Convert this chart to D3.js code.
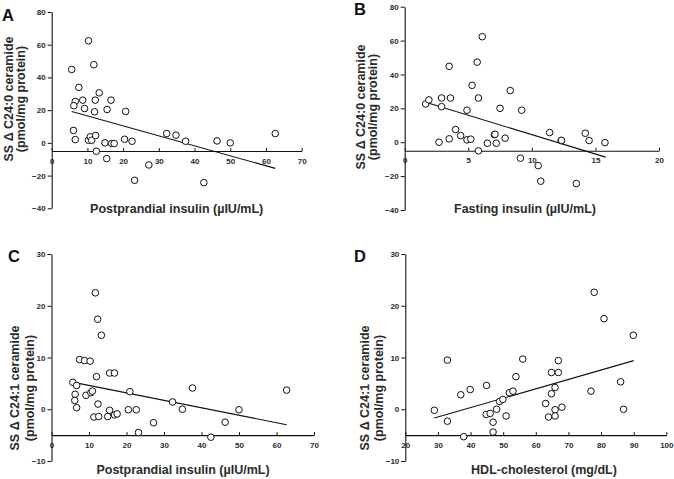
<!DOCTYPE html>
<html>
<head>
<meta charset="utf-8">
<script src="https://cdn.jsdelivr.net/npm/d3@7"></script>
<style>
  html, body { margin: 0; padding: 0; background: #fff; }
  svg { display: block; font-family: "Liberation Sans", Arial, sans-serif; }
</style>
</head>
<body>
<svg id="chart" width="674" height="479"></svg>
<script>
// ---- Panel A: Postprandial insulin vs SS Δ C24:0 ceramide ----
const aX = [5.6, 10.3, 11.8, 7.6, 13.3, 6.6, 8.7, 12.2, 16.6, 6.2, 9.2, 12.0, 15.5, 20.7, 6.1, 6.6, 10.3, 10.8, 11.2, 12.3, 14.9, 16.8, 17.5, 20.4, 22.5, 12.5, 15.4, 27.2, 23.2, 32.2, 34.8, 37.5, 42.6, 46.3, 50.0, 62.6];
const aY = [44.9, 62.4, 47.8, 33.9, 30.6, 25.3, 26.1, 26.1, 26.1, 22.7, 21.0, 19.0, 20.4, 19.2, 7.6, 2.0, 1.6, 3.7, 1.6, 4.5, 0.0, -0.4, -0.4, 2.2, 1.0, -5.1, -9.6, -13.5, -22.9, 5.7, 4.7, 1.0, -24.3, 1.2, 0.0, 5.7];
const aFitX = [5.6, 62.6];
const aFitY = [19.2, -15.6];

// ---- Panel B: Fasting insulin vs SS Δ C24:0 ceramide ----
const bX = [1.65, 1.9, 2.9, 2.9, 2.7, 3.5, 3.6, 3.5, 4.0, 4.4, 4.9, 4.9, 5.2, 5.3, 5.7, 5.8, 6.1, 5.8, 6.5, 7.05, 7.1, 7.2, 7.5, 7.9, 8.3, 9.2, 9.1, 10.5, 10.7, 11.4, 12.3, 12.33, 13.5, 14.2, 14.5, 15.75];
const bY = [22.6, 25.0, 26.1, 21.0, 0.0, 44.8, 26.1, 2.0, 7.5, 3.9, 18.9, 1.4, 1.8, 33.6, 47.3, 26.1, 62.3, -5.1, -0.6, 4.5, 4.7, -0.6, 20.0, 2.4, 30.5, 18.9, -9.4, -13.8, -23.0, 5.7, 1.0, 1.1, -24.4, 5.3, 1.0, -0.2];
const bFitX = [1.65, 15.8];
const bFitY = [23.6, -8.8];

// ---- Panel C: Postprandial insulin vs SS Δ C24:1 ceramide ----
const cX = [5.7, 6.7, 6.3, 6.2, 6.7, 7.5, 8.8, 10.3, 9.2, 10.5, 10.9, 11.7, 12.3, 13.3, 12.0, 12.4, 11.3, 12.6, 15.5, 16.8, 15.5, 15.0, 16.8, 17.5, 20.9, 20.5, 22.6, 27.2, 23.2, 32.3, 34.9, 37.6, 42.5, 46.3, 50.0, 62.7];
const cY = [5.2, 4.6, 2.9, 1.7, 0.3, 9.6, 9.4, 9.3, 2.7, 3.2, 3.5, 22.5, 17.4, 14.3, 6.3, 1.0, -1.5, -1.4, 7.0, 7.0, -0.2, -1.4, -1.1, -0.9, 3.4, -0.1, -0.1, -2.6, -4.5, 1.4, 0.0, 4.1, -5.4, -2.5, -0.1, 3.7];
const cFitX = [5.9, 62.7];
const cFitY = [5.2, -3.0];

// ---- Panel D: HDL-cholesterol vs SS Δ C24:1 ceramide ----
const dX = [28.9, 32.9, 32.9, 37.0, 37.9, 39.9, 44.9, 44.8, 46.0, 46.9, 46.9, 48.0, 48.9, 49.9, 50.9, 51.9, 53.0, 53.9, 56.0, 63.0, 63.9, 64.8, 64.8, 65.9, 65.9, 65.9, 66.9, 66.9, 68.0, 76.9, 77.9, 80.9, 86.0, 86.9, 89.9];
const dY = [-0.2, 9.5, -2.3, 2.8, -5.3, 3.8, 4.6, -1.0, -0.8, -2.5, -4.4, 0.0, 1.5, 1.9, -1.3, 3.2, 3.5, 6.3, 9.7, 1.1, -1.5, 3.0, 7.1, 4.2, -0.1, -1.3, 7.1, 9.4, 0.4, 3.5, 22.6, 17.5, 5.3, 0.0, 14.3];
const dFitX = [28.9, 90];
const dFitY = [-1.7, 9.4];

// ---- Tick values ----
const ticksY1 = [-40, -20, 0, 20, 40, 60, 80];
const ticksY2 = [-10, 0, 10, 20, 30];
const ticksXA = [0, 10, 20, 30, 40, 50, 60, 70];
const ticksXB = [0, 5, 10, 15, 20];
const ticksXD = [20, 30, 40, 50, 60, 70, 80, 90, 100];

// ---- Labels ----
const panelLetters = ["A", "B", "C", "D"];
const xTitles = ["Postprandial insulin (\u00b5IU/mL)", "Fasting insulin (\u00b5IU/mL)", "Postprandial insulin (\u00b5IU/mL)", "HDL-cholesterol (mg/dL)"];
const yTitles1 = ["SS \u0394 C24:0 ceramide", "SS \u0394 C24:0 ceramide", "SS \u0394 C24:1 ceramide", "SS \u0394 C24:1 ceramide"];
const yTitle2 = "(pmol/mg protein)";

const svg = d3.select("#chart");
const TEXT = "#2b2b2b";

const panels = [
  { xs: aX, ys: aY, fx: aFitX, fy: aFitY, xd: [0, 70], yd: [-40, 80], xr: [51.7, 301.7], yr: [208.3, 12], xt: ticksXA, yt: ticksY1,
    letter: [2, 21], xTitle: [176.7, 213], yTitle: [12.5, 24.5, 99] },
  { xs: bX, ys: bY, fx: bFitX, fy: bFitY, xd: [0, 20], yd: [-40, 80], xr: [404.7, 659], yr: [210, 6.7], xt: ticksXB, yt: ticksY1,
    letter: [354, 15], xTitle: [525, 213], yTitle: [365, 377, 107] },
  { xs: cX, ys: cY, fx: cFitX, fy: cFitY, xd: [0, 70], yd: [-10, 30], xr: [51.5, 314], yr: [461, 254], xt: ticksXA, yt: ticksY2,
    letter: [8, 262], xTitle: [183, 474], yTitle: [19, 34, 388] },
  { xs: dX, ys: dY, fx: dFitX, fy: dFitY, xd: [20, 100], yd: [-10, 30], xr: [405.3, 666.3], yr: [461, 254], xt: ticksXD, yt: ticksY2,
    letter: [354, 262], xTitle: [544, 474], yTitle: [369, 383, 388] }
];

panels.forEach((p, i) => {
  const g = svg.append("g");
  const x = d3.scaleLinear().domain(p.xd).range(p.xr);
  const y = d3.scaleLinear().domain(p.yd).range(p.yr);

  // x axis (crosses at y = -5)
  const xAxis = d3.axisBottom(x).tickValues(p.xt).tickFormat(d3.format("d"))
    .tickSizeInner(-3).tickSizeOuter(0).tickPadding(7);
  const gx = g.append("g").attr("transform", `translate(0,${y(-5)})`).call(xAxis);
  gx.select(".domain").attr("stroke", "#111").attr("stroke-width", 1.1);
  gx.selectAll(".tick line").attr("stroke", "#111");
  gx.selectAll(".tick text").attr("fill", TEXT).attr("font-size", 8).attr("font-weight", "bold")
    .attr("font-family", "'Liberation Sans', Arial, sans-serif");

  // y axis
  const yAxis = d3.axisLeft(y).tickValues(p.yt).tickFormat(d3.format("d"))
    .tickSizeInner(4).tickSizeOuter(0).tickPadding(2);
  const gy = g.append("g").attr("transform", `translate(${x(p.xd[0])},0)`).call(yAxis);
  gy.select(".domain").attr("stroke", "#111").attr("stroke-width", 1.1);
  gy.selectAll(".tick line").attr("stroke", "#111");
  gy.selectAll(".tick text").attr("fill", TEXT).attr("font-size", 8).attr("font-weight", "bold")
    .attr("font-family", "'Liberation Sans', Arial, sans-serif");

  // regression line
  const line = d3.line().x(d => x(d[0])).y(d => y(d[1]));
  g.append("path").datum(d3.zip(p.fx, p.fy)).attr("d", line)
    .attr("fill", "none").attr("stroke", "#111").attr("stroke-width", 1.1);

  // points
  g.append("g").selectAll("circle").data(d3.zip(p.xs, p.ys)).join("circle")
    .attr("cx", d => x(d[0])).attr("cy", d => y(d[1])).attr("r", 3.3)
    .attr("fill", "#fff").attr("stroke", "#111").attr("stroke-width", 1);

  // panel letter
  g.append("text").attr("x", p.letter[0]).attr("y", p.letter[1]).text(panelLetters[i])
    .attr("font-size", 16.5).attr("font-weight", "bold").attr("fill", "#111");

  // x title
  g.append("text").attr("x", p.xTitle[0]).attr("y", p.xTitle[1]).attr("text-anchor", "middle")
    .text(xTitles[i]).attr("font-size", 12.5).attr("font-weight", "bold").attr("fill", TEXT);

  // y title (two lines)
  g.append("text").attr("transform", `translate(${p.yTitle[0]},${p.yTitle[2]}) rotate(-90)`)
    .attr("text-anchor", "middle").text(yTitles1[i])
    .attr("font-size", 12.5).attr("font-weight", "bold").attr("fill", TEXT);
  g.append("text").attr("transform", `translate(${p.yTitle[1]},${p.yTitle[2]}) rotate(-90)`)
    .attr("text-anchor", "middle").text(yTitle2)
    .attr("font-size", 12.5).attr("font-weight", "bold").attr("fill", TEXT);
});
</script>
</body>
</html>
